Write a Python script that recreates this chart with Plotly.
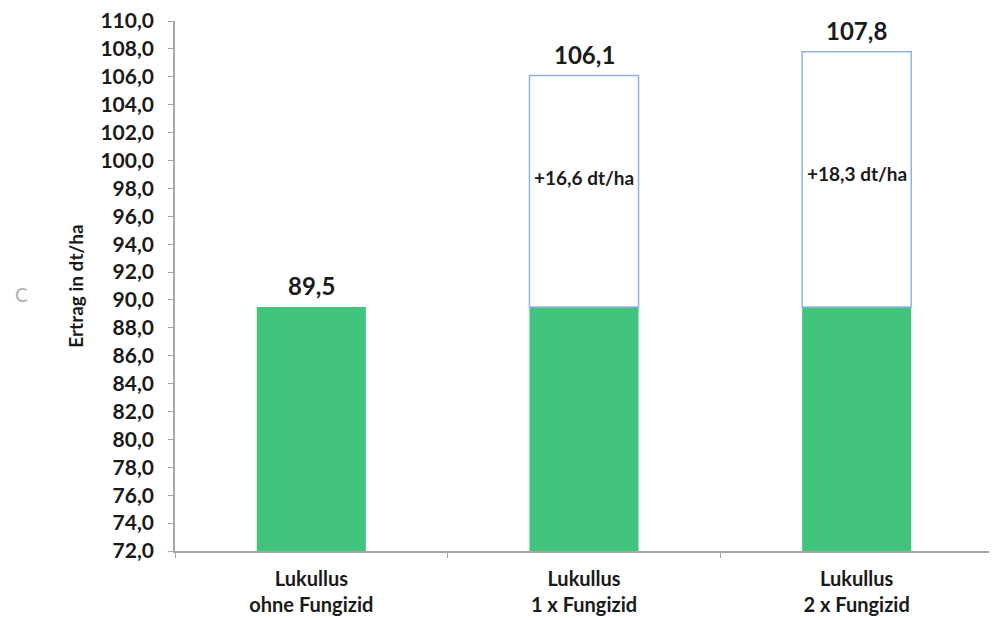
import plotly.graph_objects as go

categories = ["Lukullus<br>ohne Fungizid", "Lukullus<br>1 x Fungizid", "Lukullus<br>2 x Fungizid"]
base_values = [89.5, 89.5, 89.5]
increments = [0.0, 16.6, 18.3]
totals = [89.5, 106.1, 107.8]
y_min, y_max, y_step = 72, 110, 2

def de(v):
    return f"{v:.1f}".replace(".", ",")

GREEN = "#41C47B"
BLUE = "#8EB4E3"
FONT = "Lato"
TXT = "#1a1a1a"

fig = go.Figure()
fig.add_trace(go.Bar(
    x=categories, y=[b - y_min for b in base_values], base=y_min,
    marker=dict(color=GREEN, line=dict(width=0)),
    width=0.4, hoverinfo="skip",
))
inc_x = [c for c, i in zip(categories, increments) if i > 0]
inc_b = [b for b, i in zip(base_values, increments) if i > 0]
inc_v = [i for i in increments if i > 0]
fig.add_trace(go.Bar(
    x=inc_x, y=inc_v, base=inc_b,
    marker=dict(color="white", line=dict(color=BLUE, width=1.5)),
    width=0.4, hoverinfo="skip",
))

annotations = []
for c, t in zip(categories, totals):
    annotations.append(dict(x=c, y=t, text=f"<b>{de(t)}</b>", showarrow=False,
                            yanchor="middle", yshift=21,
                            font=dict(family=FONT, size=24, color=TXT)))
text_shift = [14, 6]
for c, b, i, s in zip(inc_x, inc_b, inc_v, text_shift):
    annotations.append(dict(x=c, y=b + i / 2, text=f"<b>+{de(i)} dt/ha</b>", showarrow=False,
                            yanchor="middle", yshift=s,
                            font=dict(family=FONT, size=19, color=TXT)))
annotations.append(dict(xref="paper", yref="y", x=0, y=90.4, xshift=-162, text="C",
                        showarrow=False, font=dict(family=FONT, size=19, color="#b0b0b0")))

fig.update_layout(
    width=989, height=612,
    margin=dict(l=167, r=4, t=13, b=69),
    plot_bgcolor="white", paper_bgcolor="white",
    showlegend=False, barmode="overlay",
    separators=",.",
    annotations=annotations,
    font=dict(family=FONT, color=TXT),
    xaxis=dict(
        showline=True, linecolor="#a6a6a6", linewidth=1.5,
        ticks="outside", tickson="boundaries", ticklen=5, tickcolor="#a6a6a6",
        tickfont=dict(family=FONT, size=20, color=TXT),
        showgrid=False, ticklabelstandoff=9, automargin=False,
        tickprefix="<b>", ticksuffix="</b>",
    ),
    yaxis=dict(
        range=[y_min, y_max], dtick=y_step, tick0=y_min, tickformat=".1f",
        showline=True, linecolor="#a6a6a6", linewidth=1.5,
        ticks="outside", ticklen=5, tickcolor="#a6a6a6",
        tickfont=dict(family=FONT, size=21, color=TXT),
        showgrid=False, zeroline=False, ticklabelstandoff=10,
        ticklabeloverflow="allow", automargin=False,
        tickprefix="<b>", ticksuffix="</b>",
        title=dict(text="<b>Ertrag in dt/ha</b>", font=dict(family=FONT, size=19, color=TXT),
                   standoff=12),
    ),
)
fig.write_html("out.html")
